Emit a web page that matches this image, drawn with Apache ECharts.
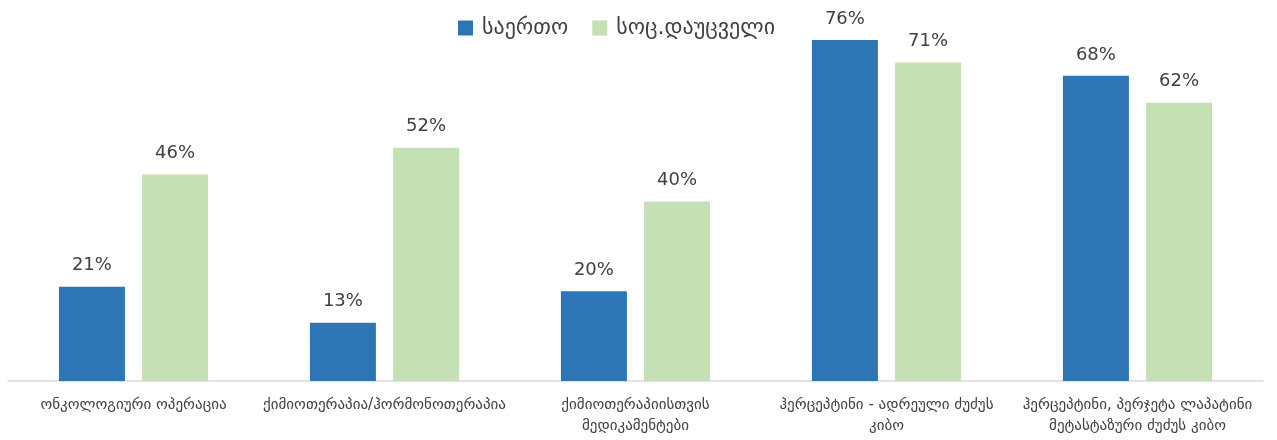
<!DOCTYPE html>
<html><head><meta charset="utf-8">
<script src="https://cdn.jsdelivr.net/npm/echarts@6/dist/echarts.min.js"></script>
<style>html,body{margin:0;padding:0;background:#fff}#c{width:1277px;height:440px}</style>
</head><body><div id="c"></div>
<script>
const categories = [
  "ონკოლოგიური ოპერაცია",
  "ქიმიოთერაპია/ჰორმონოთერაპია",
  "ქიმიოთერაპიისთვის\nმედიკამენტები",
  "ჰერცეპტინი - ადრეული ძუძუს\nკიბო",
  "ჰერცეპტინი, პერჯეტა ლაპატინი\nმეტასტაზური ძუძუს კიბო"
];
const seriesNames = ["საერთო", "სოც.დაუცველი"];
const totalValues = [21, 13, 20, 76, 68];
const socialValues = [46, 52, 40, 71, 62];

const font = "DejaVu Sans, Noto Sans, sans-serif";
const chart = echarts.init(document.getElementById('c'), null, {renderer: 'canvas'});
const lbl = {show: true, position: 'top', distance: 12, formatter: '{c}%', fontSize: 18, color: '#404040', fontFamily: font};
chart.setOption({
  animation: false,
  legend: {
    top: 17, left: 458, padding: 0, itemWidth: 15, itemHeight: 15, itemGap: 24,
    icon: 'rect',
    textStyle: {fontSize: 22, color: '#404040', fontFamily: font, padding: [0, 0, 0, 4]},
    data: seriesNames
  },
  grid: {left: 8, right: 14, top: 22, bottom: 59, containLabel: false},
  xAxis: {
    type: 'category', data: categories,
    axisLine: {lineStyle: {color: '#D9D9D9', width: 1.5}},
    axisTick: {show: false},
    axisLabel: {interval: 0, fontSize: 15, color: '#404040', lineHeight: 21, margin: 14, fontFamily: font}
  },
  yAxis: {type: 'value', min: 0, max: 80, show: false, splitLine: {show: false}},
  series: [
    {name: seriesNames[0], type: 'bar', data: totalValues, barWidth: 66, barGap: '26%', itemStyle: {color: '#2E75B6'}, label: lbl},
    {name: seriesNames[1], type: 'bar', data: socialValues, barWidth: 66, itemStyle: {color: '#C5E0B4'}, label: lbl}
  ]
});
</script></body></html>
